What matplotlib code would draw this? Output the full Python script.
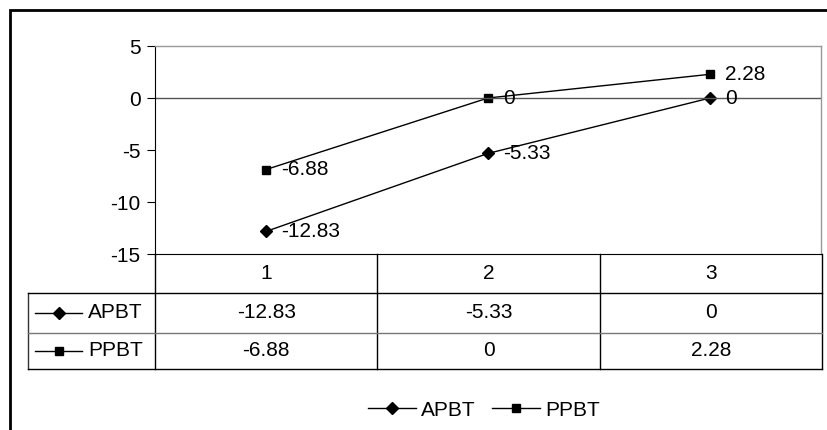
import matplotlib.pyplot as plt
from matplotlib.lines import Line2D
from matplotlib.patches import Rectangle

plt.rcParams['font.family'] = ['Liberation Sans', 'DejaVu Sans']
plt.rcParams['font.size'] = 15
plt.rcParams['axes.unicode_minus'] = False

categories = [1, 2, 3]
apbt = [-12.83, -5.33, 0]
ppbt = [-6.88, 0, 2.28]
series = [('APBT', apbt, 'D', 6.5), ('PPBT', ppbt, 's', 6)]

W, H = 827, 430
fig = plt.figure(figsize=(W / 100, H / 100), dpi=100)

def px(x0, y0, x1, y1):
    # pixel box -> figure fraction [left, bottom, width, height]
    return [x0 / W, 1 - y1 / H, (x1 - x0) / W, (y1 - y0) / H]

# outer chart border
fig.patches.append(Rectangle((10 / W, -0.1), 1.2, 1 - 10 / H + 0.1,
                             transform=fig.transFigure, fill=False,
                             lw=2, ec='black', zorder=0))

ax = fig.add_axes(px(155, 46, 821, 254))
for name, vals, mk, ms in series:
    ax.plot(categories, vals, color='black', lw=1, marker=mk, ms=ms, label=name)
    for x, v in zip(categories, vals):
        ax.annotate(f'{v:g}', (x, v), xytext=(15, 0), textcoords='offset pixels',
                    ha='left', va='center')

ax.set_xlim(0.5, 3.5)
ax.set_ylim(-15, 5)
ax.set_yticks([5, 0, -5, -10, -15])
ax.set_xticks([])
ax.axhline(0, color='#555555', lw=1)
ax.tick_params(axis='y', length=5.5, width=0.8, pad=5, labelsize=15)
for s in ['top', 'right']:
    ax.spines[s].set_color('#999999')
    ax.spines[s].set_linewidth(1)
ax.spines['left'].set_linewidth(0.8)
ax.spines['bottom'].set_linewidth(0.8)

# data table under the plot, same x scale as the plot
left_px = 28
tab = fig.add_axes(px(left_px, 254, 822, 369))
tab.set_xlim(0.5 - (155 - left_px) / 222, 3.5)
tab.set_ylim(369, 254)
tab.axis('off')
rows = [254, 293, 333, 369]
x_key = 0.5 - (155 - left_px) / 222
for xb in [0.5, 1.5, 2.5, 3.5]:
    tab.plot([xb, xb], [254, 369], color='black', lw=1, clip_on=False)
tab.plot([x_key, x_key], [293, 369], color='#333333', lw=1, clip_on=False)
for yb, c in [(293, 'black'), (333, '#777777'), (369, 'black')]:
    tab.plot([x_key, 3.5], [yb, yb], color=c, lw=1, clip_on=False)

for x in categories:
    tab.text(x, (rows[0] + rows[1]) / 2, str(x), ha='center', va='center')
for i, (name, vals, mk, ms) in enumerate(series):
    yc = (rows[i + 1] + rows[i + 2]) / 2
    for x, v in zip(categories, vals):
        tab.text(x, yc, f'{v:g}', ha='center', va='center')
    kx0 = x_key + 7 / 222
    kx1 = x_key + 54 / 222
    tab.plot([kx0, kx1], [yc, yc], color='black', lw=1, clip_on=False)
    tab.plot([(kx0 + kx1) / 2], [yc], marker=mk, ms=ms, color='black', clip_on=False)
    tab.text(x_key + 60 / 222, yc, name, ha='left', va='center')

handles = [Line2D([], [], color='black', lw=1, marker=mk, ms=ms) for _, _, mk, ms in series]
fig.legend(handles, [s[0] for s in series], loc='center', ncol=2,
           bbox_to_anchor=(484 / W, 1 - 410 / H), frameon=False,
           handlelength=2.3, handletextpad=0.25, columnspacing=0.8, fontsize=15)

fig.savefig('out.png', dpi=100)
